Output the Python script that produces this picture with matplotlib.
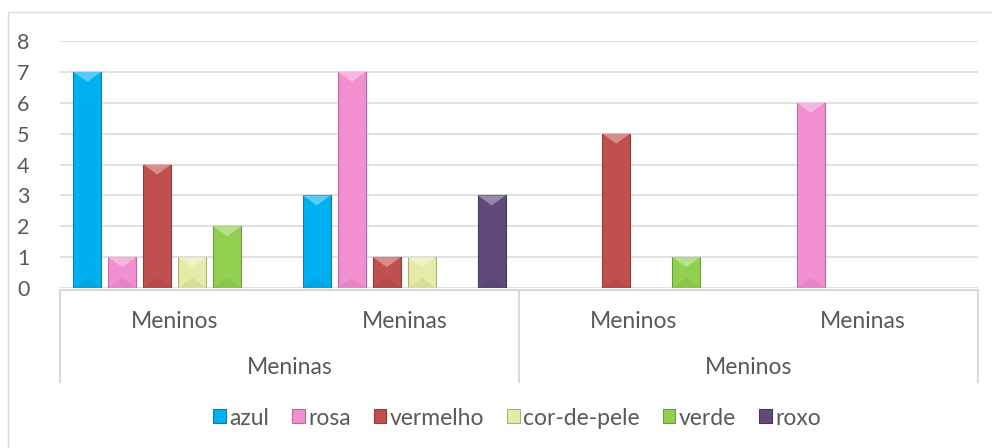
import matplotlib
matplotlib.use("Agg")
import matplotlib.pyplot as plt
from matplotlib.patches import Polygon, Patch, Rectangle
import matplotlib.transforms as mtransforms
import matplotlib.colors as mcolors
import numpy as np

plt.rcParams['font.family'] = ['Lato', 'DejaVu Sans']

sub_labels = ["Meninos", "Meninas", "Meninos", "Meninas"]
top_labels = ["Meninas", "Meninos"]
series_names = ["azul", "rosa", "vermelho", "cor-de-pele", "verde", "roxo"]
azul = [7, 3, 0, 0]
rosa = [1, 7, 0, 6]
vermelho = [4, 1, 5, 0]
cor_de_pele = [1, 1, 0, 0]
verde = [2, 0, 1, 0]
roxo = [0, 3, 0, 0]
series_values = [azul, rosa, vermelho, cor_de_pele, verde, roxo]
colors = ["#00B0F0", "#F28FD0", "#C0504D", "#E6EBA8", "#92D050", "#604A7B"]
y_ticks = [0, 1, 2, 3, 4, 5, 6, 7, 8]

TXT = "#595959"
GRID = "#D9D9D9"
FS = 16.5
FS_TICK = 15.5

fig = plt.figure(figsize=(9.92, 4.48), dpi=100)
ax = fig.add_axes([60/992, 160/448, 918/992, 247/448])

# outer chart border
fig.patches.append(Rectangle((8/992, -0.05), 1.2, 1 - 12/448 + 0.05,
                             transform=fig.transFigure, fill=False,
                             edgecolor=GRID, linewidth=1.0, zorder=0))

n_series = len(series_values)
x = np.arange(len(sub_labels))
pitch = 35/229.5
width = 28/229.5

ax.set_xlim(-0.5, len(sub_labels) - 0.5)
ax.set_ylim(0, 8)
ax.set_yticks(y_ticks)
ax.yaxis.grid(True, color=GRID, linewidth=1.1)
ax.set_axisbelow(True)
for s in ax.spines.values():
    s.set_visible(False)
ax.tick_params(axis='y', length=0, pad=22, labelsize=FS_TICK, labelcolor=TXT)
ax.set_xticks([])

px_per_unit = 247 / 8.0

def shade(c, f):
    r, g, b = mcolors.to_rgb(c)
    if f > 0:
        return (r + (1 - r) * f, g + (1 - g) * f, b + (1 - b) * f)
    return (r * (1 + f), g * (1 + f), b * (1 + f))

for j, (vals, col) in enumerate(zip(series_values, colors)):
    offs = (j - (n_series - 1) / 2) * pitch
    bars = ax.bar(x + offs, vals, width, color=col,
                  edgecolor=shade(col, -0.25), linewidth=0.8, zorder=3)
    for b in bars:
        h = b.get_height()
        if h <= 0:
            b.set_visible(False)
            continue
        x0 = b.get_x(); w = b.get_width()
        bev = min(10 / px_per_unit, h / 2)
        # top highlight chevron
        ax.add_patch(Polygon([(x0, h), (x0 + w, h), (x0 + w / 2, h - bev)],
                             closed=True, facecolor=shade(col, 0.35),
                             edgecolor='none', zorder=4))
        # bottom darker chevron
        ax.add_patch(Polygon([(x0, 0), (x0 + w, 0), (x0 + w / 2, bev)],
                             closed=True, facecolor=shade(col, -0.06),
                             edgecolor='none', zorder=4))

# category axis box
blend = mtransforms.blended_transform_factory(ax.transData, ax.transAxes)
ybot = -94 / 247
ax.plot([-0.5, len(sub_labels) - 0.5], [-2/247, -2/247], transform=blend,
        color=GRID, linewidth=1.5, clip_on=False, zorder=1)
for xv in [-0.5, 1.5, 3.5]:
    ax.plot([xv, xv], [-2/247, ybot], transform=blend, color=GRID,
            linewidth=1.5, clip_on=False, zorder=1)

for i, lab in enumerate(sub_labels):
    ax.text(x[i], -33/247, lab, transform=blend, ha='center', va='center',
            fontsize=FS, color=TXT)
for k, lab in enumerate(top_labels):
    ax.text(2 * k + 0.5, -79/247, lab, transform=blend, ha='center',
            va='center', fontsize=FS, color=TXT)

handles = [Patch(facecolor=c, edgecolor=shade(c, -0.25), linewidth=0.8)
           for c in colors]
leg = fig.legend(handles, series_names, loc='center', ncol=6,
                 bbox_to_anchor=(517/992, 30/448), frameon=False,
                 fontsize=FS, handlelength=0.55, handleheight=0.55,
                 handletextpad=0.15, columnspacing=1.0, labelcolor=TXT)

fig.savefig("out.png", dpi=100)
